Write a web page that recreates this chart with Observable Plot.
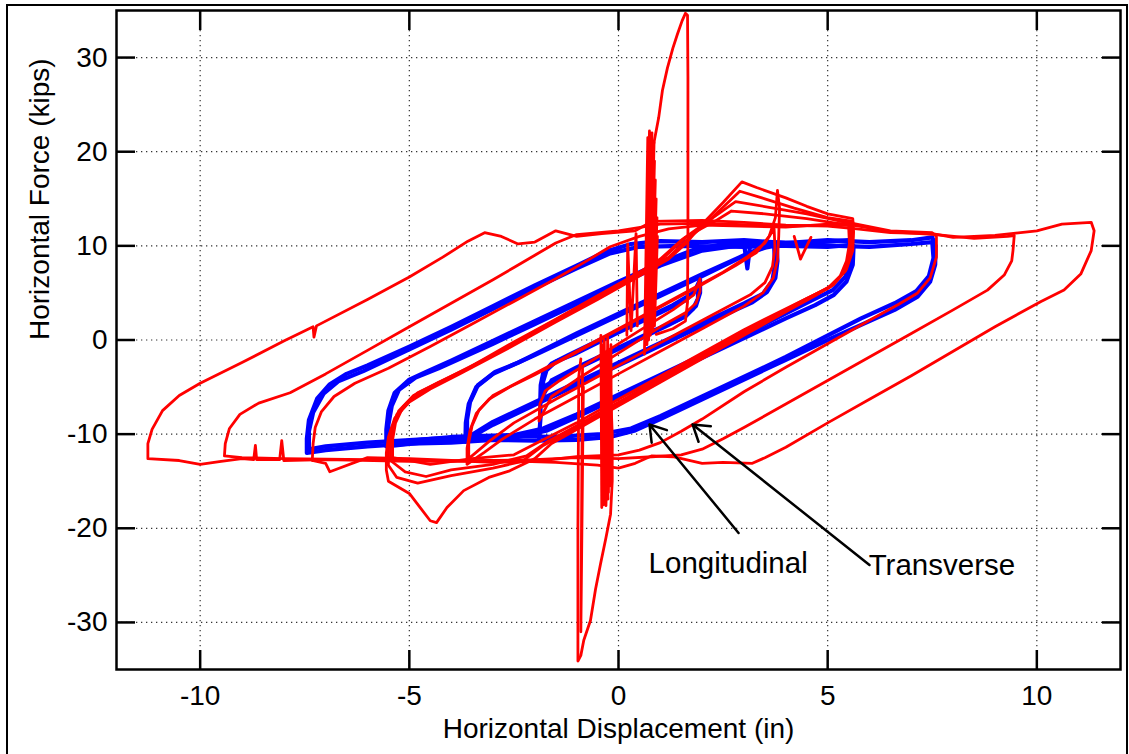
<!DOCTYPE html>
<html><head><meta charset="utf-8">
<script src="https://cdn.jsdelivr.net/npm/d3@7"></script>
<script src="https://cdn.jsdelivr.net/npm/@observablehq/plot@0.6"></script>
<style>
body{margin:0;background:#fff;}
#wrap{position:relative;width:1129px;height:754px;overflow:hidden;background:#fff;}
#wrap svg{position:absolute;left:0;top:0;}
#border{position:absolute;left:6px;top:4px;width:1118px;height:800px;border:2px solid #000;pointer-events:none;}
</style></head><body><div id="wrap"><div id="border"></div></div>
<script>
// ---- axis ticks & labels ----
const xTicks = [-10, -5, 0, 5, 10];
const yTicks = [-30, -20, -10, 0, 10, 20, 30];
const xLabel = "Horizontal Displacement (in)";
const yLabel = "Horizontal Force (kips)";

// ---- Longitudinal (blue) loops: [displacement in, force kips] ----
const B75a = [[-7.45,-12.0],[-7.45,-10.5],[-7.4,-8.5],[-7.2,-6.2],[-6.9,-4.7],[-6.5,-3.6],[-6.0,-2.7],[-5.0,-0.7],[-4.0,1.4],[-3.0,3.6],[-2.0,5.8],[-1.0,7.9],[-0.3,9.4],[0.3,10.2],[1.0,10.5],[2.0,10.4],[3.0,10.6],[4.0,10.3],[5.0,10.6],[6.0,10.4],[7.0,10.6],[7.5,10.9],[7.58,10.0],[7.57,8.0],[7.45,6.2],[7.15,4.6],[6.6,3.2],[5.8,1.6],[5.0,0.0],[4.0,-2.1],[3.0,-4.2],[2.0,-6.3],[1.0,-8.4],[0.4,-9.6],[-0.2,-10.3],[-1.0,-10.6],[-2.0,-10.7],[-3.0,-10.6],[-4.0,-10.9],[-5.0,-11.0],[-6.0,-11.3],[-7.0,-11.7],[-7.45,-12.0]];
const B75b = [[-7.4,-11.6],[-7.4,-9.7],[-7.3,-7.7],[-7.05,-5.7],[-6.7,-4.4],[-6.1,-3.3],[-5.0,-1.0],[-4.0,1.1],[-3.0,3.3],[-2.0,5.5],[-1.0,7.6],[-0.2,9.2],[0.5,9.9],[1.5,10.0],[3.0,9.9],[4.5,10.1],[6.0,9.9],[7.0,10.2],[7.5,10.4],[7.53,8.7],[7.42,6.8],[7.12,5.2],[6.6,3.9],[5.8,2.3],[4.0,-1.8],[2.0,-6.0],[1.0,-8.1],[0.3,-9.4],[-0.4,-10.0],[-1.5,-10.3],[-3.0,-10.2],[-4.5,-10.5],[-6.0,-10.9],[-7.0,-11.3],[-7.4,-11.6]];
const B55a = [[-5.55,-11.3],[-5.55,-9.5],[-5.5,-7.5],[-5.35,-5.6],[-5.0,-4.2],[-4.6,-3.4],[-4.0,-2.2],[-3.0,-0.1],[-2.0,2.0],[-1.0,4.1],[0.0,6.2],[1.0,8.2],[1.8,9.6],[2.5,10.2],[3.5,10.4],[4.5,10.3],[5.5,10.6],[5.62,10.0],[5.6,8.0],[5.45,6.2],[5.15,4.8],[4.7,3.7],[4.0,2.3],[3.0,0.2],[2.0,-1.9],[1.0,-4.0],[0.0,-6.1],[-1.0,-8.2],[-1.7,-9.6],[-2.5,-10.4],[-3.5,-10.6],[-4.5,-10.8],[-5.55,-11.3]];
const B55b = [[-5.5,-10.9],[-5.5,-9.0],[-5.42,-7.0],[-5.25,-5.3],[-4.85,-4.0],[-4.3,-3.0],[-3.0,-0.4],[-2.0,1.7],[-1.0,3.8],[0.0,5.9],[1.0,7.9],[2.0,9.5],[2.8,10.0],[4.0,10.0],[5.0,9.9],[5.55,10.1],[5.56,8.5],[5.42,6.7],[5.12,5.3],[4.62,4.2],[3.0,0.6],[2.0,-1.6],[1.0,-3.7],[0.0,-5.8],[-1.0,-7.9],[-1.8,-9.4],[-2.5,-10.1],[-4.0,-10.3],[-5.5,-10.9]];
const B37a = [[-3.66,-10.8],[-3.65,-8.8],[-3.58,-6.8],[-3.4,-5.0],[-3.0,-3.6],[-2.5,-2.6],[-2.0,-1.6],[-1.0,0.5],[0.0,2.6],[1.0,4.7],[2.0,6.8],[2.8,8.5],[3.3,9.6],[3.78,10.2],[3.8,8.4],[3.75,6.6],[3.55,5.1],[3.2,4.0],[2.8,3.2],[2.0,1.5],[1.0,-0.6],[0.0,-2.7],[-1.0,-4.8],[-2.0,-6.9],[-3.0,-9.0],[-3.4,-10.0],[-3.66,-10.8]];
const B37b = [[-3.62,-10.4],[-3.62,-8.5],[-3.55,-6.6],[-3.36,-4.8],[-2.95,-3.4],[-2.4,-2.4],[-1.0,0.7],[0.0,2.8],[1.0,4.9],[2.0,7.0],[3.0,9.0],[3.5,9.8],[3.72,10.0],[3.74,8.0],[3.68,6.3],[3.45,4.9],[3.0,3.9],[2.0,1.8],[1.0,-0.3],[0.0,-2.4],[-1.0,-4.5],[-2.0,-6.6],[-3.0,-8.7],[-3.62,-10.4]];
const B18 = [[-1.9,-10.4],[-1.86,-8.0],[-1.87,-6.4],[-1.86,-4.8],[-1.8,-3.5],[-1.6,-2.5],[-1.2,-1.6],[-0.5,-0.1],[0.5,2.0],[1.3,3.7],[1.8,5.0],[1.95,6.4],[1.95,5.0],[1.85,3.6],[1.6,2.5],[1.2,1.6],[0.5,0.1],[-0.5,-2.0],[-1.3,-3.7],[-1.8,-5.0],[-1.87,-6.4]];
const B18b = [[-1.82,-6.0],[-1.8,-4.4],[-1.72,-3.2],[-1.5,-2.3],[-1.0,-1.4],[0.0,0.8],[1.0,2.9],[1.6,4.2],[1.9,5.6],[1.9,4.4],[1.78,3.3],[1.5,2.3],[0.8,0.9],[0.0,-0.8],[-1.0,-2.9],[-1.6,-4.3],[-1.82,-6.0]];
const Bhook = [[3.0,10.3],[3.08,7.6],[3.15,10.2]];

// ---- Transverse (red) loops ----
const R113 = [[-11.25,-12.6],[-11.25,-11.0],[-11.15,-9.5],[-10.9,-7.5],[-10.5,-5.9],[-10.0,-4.6],[-9.0,-2.4],[-8.0,-0.1],[-7.3,1.4],[-7.28,0.3],[-7.22,1.5],[-6.0,4.3],[-5.0,6.7],[-4.2,8.8],[-3.6,10.5],[-3.2,11.4],[-2.8,11.0],[-2.4,10.2],[-2.0,10.4],[-1.5,11.6],[-1.0,11.0],[-0.4,11.3],[0.4,11.6],[0.8,12.6],[2.0,12.7],[3.0,12.5],[4.0,12.2],[5.0,12.1],[5.7,11.8],[6.5,11.4],[7.5,11.3],[8.0,10.9],[9.0,11.1],[10.0,11.6],[10.6,12.3],[11.3,12.5],[11.37,11.6],[11.3,9.5],[11.05,7.0],[10.65,5.3],[10.1,4.1],[9.0,1.4],[8.0,-1.2],[7.0,-3.8],[6.0,-6.3],[5.0,-8.8],[4.0,-11.4],[3.5,-12.5],[3.2,-13.1],[2.5,-13.0],[2.0,-13.1],[1.3,-12.4],[0.8,-12.3],[0.4,-13.1],[0.0,-13.6],[-0.5,-13.3],[-1.5,-13.0],[-3.0,-12.8],[-5.0,-12.9],[-7.0,-12.7],[-8.0,-12.8],[-8.05,-10.7],[-8.1,-12.7],[-8.65,-12.7],[-8.68,-11.2],[-8.72,-12.7],[-9.0,-12.6],[-9.5,-12.9],[-10.0,-13.2],[-10.5,-12.8],[-11.25,-12.6]];
const R93 = [[-9.42,-12.3],[-9.4,-11.0],[-9.3,-9.4],[-9.05,-7.9],[-8.6,-6.7],[-7.85,-5.6],[-7.0,-3.6],[-6.0,-1.1],[-5.0,1.4],[-4.0,3.9],[-3.0,6.4],[-2.5,7.7],[-2.0,9.0],[-1.5,10.3],[-1.0,11.2],[0.0,11.6],[1.0,12.3],[2.0,12.4],[4.0,12.1],[5.6,12.2],[6.5,11.5],[7.6,11.2],[8.5,10.8],[9.3,11.0],[9.46,11.1],[9.43,9.5],[9.4,8.4],[9.22,6.9],[8.82,5.3],[8.0,3.2],[7.0,0.7],[6.0,-1.8],[5.0,-4.3],[4.0,-6.8],[3.0,-9.3],[2.5,-10.5],[2.0,-11.6],[1.5,-12.2],[0.8,-12.4],[0.0,-12.6],[-1.0,-12.5],[-2.0,-12.7],[-4.0,-12.9],[-6.0,-12.7],[-8.0,-12.6],[-9.0,-12.5],[-9.42,-12.3]];
const R75 = [[-7.32,-12.8],[-7.3,-11.0],[-7.25,-9.3],[-7.1,-7.6],[-6.8,-6.0],[-6.3,-4.6],[-5.5,-3.0],[-4.5,-0.7],[-3.5,1.7],[-2.5,4.1],[-1.5,6.5],[-0.8,8.3],[-0.2,9.9],[0.5,11.0],[1.2,11.8],[2.0,12.2],[3.0,12.1],[4.0,12.0],[5.0,12.3],[5.6,12.4],[6.5,11.6],[7.5,11.4],[7.6,11.0],[7.6,8.8],[7.45,6.6],[7.15,5.0],[6.7,3.8],[6.0,2.1],[5.0,-0.4],[4.0,-2.9],[3.0,-5.5],[2.0,-8.4],[1.5,-9.7],[1.0,-10.9],[0.5,-11.7],[0.0,-12.2],[-1.0,-12.4],[-2.0,-12.9],[-3.0,-13.0],[-4.0,-12.8],[-5.0,-12.6],[-6.0,-12.5],[-6.9,-14.0],[-7.0,-13.1],[-7.32,-12.8]];
const R55a = [[-5.55,-13.8],[-5.55,-12.0],[-5.5,-10.3],[-5.35,-8.3],[-5.0,-6.6],[-4.5,-5.2],[-3.8,-3.6],[-2.6,-0.8],[-1.5,1.9],[-0.5,4.3],[0.5,6.8],[1.2,8.6],[1.6,10.2],[2.0,12.3],[2.5,14.6],[2.95,16.8],[3.3,16.2],[4.0,15.1],[4.5,14.2],[5.0,13.4],[5.6,12.9],[5.62,11.5],[5.6,9.5],[5.45,7.5],[5.15,5.9],[4.7,4.7],[4.0,3.0],[3.0,0.5],[2.0,-2.0],[1.0,-4.5],[0.0,-7.0],[-1.0,-9.5],[-1.6,-11.0],[-2.0,-12.6],[-2.6,-13.9],[-3.1,-14.6],[-3.7,-16.0],[-4.1,-17.8],[-4.35,-19.4],[-4.5,-19.2],[-5.0,-16.3],[-5.5,-15.0],[-5.55,-13.8]];
const R55b = [[-5.5,-13.3],[-5.5,-11.5],[-5.45,-9.8],[-5.3,-7.9],[-4.95,-6.2],[-4.4,-4.8],[-3.7,-3.3],[-2.5,-0.4],[-1.5,2.0],[-0.5,4.5],[0.5,7.0],[1.2,8.8],[1.6,10.5],[2.0,12.0],[2.9,15.8],[3.5,15.0],[4.2,14.0],[5.0,13.0],[5.6,12.6],[5.6,11.0],[5.57,9.3],[5.42,7.3],[5.1,5.8],[4.6,4.6],[4.0,3.2],[3.0,0.7],[2.0,-1.8],[1.0,-4.3],[0.0,-6.8],[-1.0,-9.3],[-1.8,-11.2],[-2.3,-12.9],[-3.0,-13.6],[-4.0,-14.4],[-4.8,-15.2],[-5.3,-14.6],[-5.5,-13.3]];
const R55c = [[-5.45,-12.8],[-5.45,-11.0],[-5.4,-9.3],[-5.25,-7.5],[-4.9,-5.9],[-4.3,-4.5],[-3.6,-3.0],[-2.5,-0.2],[-1.5,2.2],[-0.5,4.7],[0.5,7.2],[1.0,8.6],[1.5,10.6],[2.1,12.5],[2.8,14.7],[3.6,14.1],[4.5,13.4],[5.55,12.4],[5.57,10.5],[5.5,8.7],[5.35,7.0],[5.05,5.6],[4.5,4.4],[3.0,0.9],[2.0,-1.6],[1.0,-4.1],[0.0,-6.6],[-1.0,-9.1],[-1.7,-10.8],[-2.2,-12.3],[-3.0,-13.2],[-4.0,-13.8],[-4.6,-14.5],[-5.1,-14.0],[-5.45,-12.8]];
const R55d = [[-5.4,-12.5],[-5.4,-10.6],[-5.33,-8.8],[-5.15,-7.1],[-4.8,-5.6],[-4.2,-4.3],[-3.0,-1.6],[-2.0,0.9],[-1.0,3.4],[0.0,5.9],[1.0,8.4],[1.6,10.9],[2.3,12.6],[2.7,13.7],[3.5,13.4],[4.5,12.9],[5.5,12.2],[5.52,10.2],[5.45,8.4],[5.3,6.8],[5.0,5.5],[4.4,4.2],[3.0,1.1],[1.5,-2.6],[0.0,-6.3],[-1.0,-8.8],[-1.8,-10.6],[-2.5,-12.2],[-3.5,-12.6],[-4.5,-13.2],[-5.4,-12.5]];
const R37a = [[-3.62,-13.2],[-3.62,-11.5],[-3.55,-9.6],[-3.4,-7.8],[-3.1,-6.3],[-2.6,-5.0],[-2.0,-3.7],[-1.0,-1.3],[0.0,1.1],[1.0,3.5],[2.0,5.9],[2.8,7.9],[3.3,9.3],[3.6,11.0],[3.75,13.0],[3.8,15.9],[3.85,14.0],[3.83,11.0],[3.8,8.5],[3.7,6.6],[3.45,5.0],[3.0,3.6],[2.0,1.2],[1.0,-1.2],[0.0,-3.6],[-1.0,-6.0],[-2.0,-8.4],[-2.8,-10.6],[-3.2,-11.9],[-3.62,-13.2]];
const R37b = [[-3.58,-12.6],[-3.58,-10.9],[-3.5,-9.1],[-3.33,-7.4],[-3.0,-5.9],[-2.4,-4.5],[-1.5,-2.4],[-0.5,0.0],[0.5,2.4],[1.5,4.8],[2.5,7.2],[3.1,8.9],[3.5,10.3],[3.72,11.8],[3.74,9.8],[3.68,7.8],[3.5,6.1],[3.15,4.8],[2.6,3.5],[1.5,0.9],[0.5,-1.5],[-0.5,-3.9],[-1.5,-6.3],[-2.5,-8.8],[-3.1,-10.8],[-3.58,-12.6]];
const R18 = [[-1.9,-8.6],[-1.88,-6.8],[-1.75,-5.4],[-1.4,-4.3],[-0.5,-1.8],[0.5,1.0],[1.3,3.2],[1.8,4.8],[1.95,6.5],[1.95,5.2],[1.85,3.9],[1.6,2.9],[1.0,1.4],[0.0,-1.4],[-1.0,-4.2],[-1.6,-6.0],[-1.9,-8.6]];
const Rnotch = [[4.2,11.0],[4.35,8.6],[4.6,10.9]];
const spikeUp = [[0.69,0.5],[0.69,4.0],[0.72,8.0],[0.76,12.0],[0.8,16.5],[0.84,20.8],[0.96,23.6],[1.05,26.5],[1.17,28.9],[1.3,31.0],[1.41,32.5],[1.52,33.9],[1.6,34.7],[1.65,34.5],[1.66,28.0],[1.66,20.0],[1.66,12.0],[1.65,4.0],[1.6,2.0],[1.3,1.2],[0.9,0.6]];
const bandUp = [[0.62,-1.5],[0.7,21.5],[0.66,0.5],[0.74,22.2],[0.68,-0.5],[0.78,21.0],[0.7,1.0],[0.8,22.0],[0.72,0.0],[0.83,20.5],[0.74,1.5],[0.86,19.0],[0.76,0.5],[0.88,17.0],[0.8,2.0],[0.9,15.0],[0.82,1.0],[0.92,13.0],[0.84,2.5],[0.93,11.0],[0.86,1.5],[0.78,18.0],[0.7,2.0],[0.85,21.0],[0.75,1.0]];
const stemsUp = [[0.2,0.5],[0.22,10.2],[0.3,1.0],[0.42,11.3],[0.45,1.5]];
const spikeDown = [[-0.9,-2.0],[-0.95,-3.9],[-0.96,-12.0],[-0.97,-20.0],[-0.97,-28.0],[-0.97,-34.1],[-0.9,-33.5],[-0.83,-31.9],[-0.67,-29.8],[-0.55,-26.5],[-0.43,-23.8],[-0.3,-21.0],[-0.19,-18.5],[-0.15,-15.0],[-0.15,-10.0],[-0.2,-4.0]];
const stemDown = [[-0.86,-3.0],[-0.9,-31.0],[-0.84,-5.0]];
const bandDown = [[-0.42,0.5],[-0.4,-17.8],[-0.38,-1.0],[-0.36,-17.5],[-0.34,0.0],[-0.32,-17.0],[-0.3,-1.5],[-0.28,-16.8],[-0.26,0.5],[-0.24,-16.2],[-0.22,-1.0],[-0.2,-15.5],[-0.18,-0.5],[-0.17,-14.5],[-0.2,-2.0],[-0.3,-17.6],[-0.36,-1.2],[-0.25,-16.9],[-0.4,-0.5]];

// ---- annotations ----
const annotations = [
  {text: "Longitudinal", x: 0.72, y: -24.7},
  {text: "Transverse", x: 5.98, y: -25.0}
];
const arrows = [
  {x1: 2.87, y1: -20.5, x2: 0.74, y2: -8.97},
  {x1: 6.0, y1: -23.9, x2: 1.77, y2: -8.97}
];

// ---- build tables ----
const blueLoops = [["B75a",B75a],["B75b",B75b],["B55a",B55a],["B55b",B55b],["B37a",B37a],["B37b",B37b],["B18",B18],["B18b",B18b],["Bhook",Bhook]];
const redLoops = [["R113",R113],["R93",R93],["R75",R75],["R55a",R55a],["R55b",R55b],["R55c",R55c],["R55d",R55d],["R37a",R37a],["R37b",R37b],["R18",R18],["Rnotch",Rnotch],["spikeUp",spikeUp],["bandUp",bandUp],["stemsUp",stemsUp],["spikeDown",spikeDown],["stemDown",stemDown],["bandDown",bandDown]];
const toRows = (loops) => loops.flatMap(([id, pts]) => pts.map(([x, y]) => ({id, x, y})));
const blueRows = toRows(blueLoops);
const redRows = toRows(redLoops);

const font = "'Liberation Sans', Arial, sans-serif";
const fmt = d => String(d);
const chart = Plot.plot({
  width: 1129, height: 754,
  marginLeft: 116, marginRight: 9, marginTop: 10, marginBottom: 85,
  style: {fontFamily: font, fontSize: "28px", color: "#000", background: "transparent", overflow: "visible"},
  x: {domain: [-12, 12]},
  y: {domain: [-35, 35]},
  marks: [
    Plot.gridX(xTicks, {stroke: "#333", strokeOpacity: 1, strokeWidth: 1.2, strokeDasharray: "1.3,3.7"}),
    Plot.gridY(yTicks, {stroke: "#333", strokeOpacity: 1, strokeWidth: 1.2, strokeDasharray: "1.3,3.7"}),
    Plot.line(blueRows, {x: "x", y: "y", z: "id", stroke: "#0000ff", strokeWidth: 4.2, strokeLinejoin: "round"}),
    Plot.line(redRows, {x: "x", y: "y", z: "id", stroke: "#ff0000", strokeWidth: 2.8, strokeLinejoin: "round"}),
    Plot.frame({stroke: "#000", strokeWidth: 2.5}),
    Plot.axisX(xTicks, {anchor: "bottom", tickSize: -19, tickPadding: 35, strokeWidth: 2.5, label: null, fontSize: 28, tickFormat: fmt}),
    Plot.axisX(xTicks, {anchor: "top", tickSize: -19, fill: "none", strokeWidth: 2.5, label: null}),
    Plot.axisY(yTicks, {anchor: "left", tickSize: -19, tickPadding: 28, strokeWidth: 2.5, label: null, fontSize: 28, tickFormat: fmt}),
    Plot.axisY(yTicks, {anchor: "right", tickSize: -19, fill: "none", strokeWidth: 2.5, label: null}),
    Plot.arrow(arrows, {x1: "x1", y1: "y1", x2: "x2", y2: "y2", stroke: "#000", strokeWidth: 2.5, headAngle: 65, headLength: 11}),
    Plot.text(annotations, {x: "x", y: "y", text: "text", textAnchor: "start", lineAnchor: "bottom", fontSize: 29.5, fill: "#000"}),
    Plot.text([xLabel], {text: d => d, frameAnchor: "bottom", dy: 68, lineAnchor: "bottom", fontSize: 28, fill: "#000"}),
    Plot.text([yLabel], {text: d => d, frameAnchor: "left", dx: -76, rotate: -90, fontSize: 28, fill: "#000"})
  ]
});
const wrap = document.getElementById("wrap");
wrap.insertBefore(chart, document.getElementById("border"));
</script>
</body></html>
